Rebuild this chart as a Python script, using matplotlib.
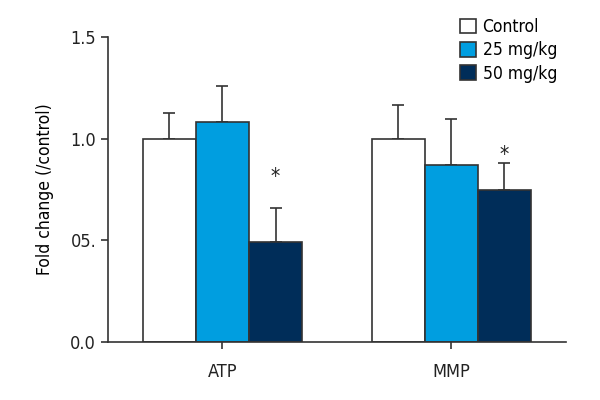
import matplotlib
matplotlib.use('Agg')
import matplotlib.pyplot as plt
import numpy as np

plt.rcParams['font.family'] = ['DejaVu Sans']
plt.rcParams['font.stretch'] = 'condensed'

# data
groups = ['ATP', 'MMP']
series = ['Control', '25 mg/kg', '50 mg/kg']
means = {
    'Control': [1.00, 1.00],
    '25 mg/kg': [1.08, 0.87],
    '50 mg/kg': [0.49, 0.75],
}
errs = {
    'Control': [0.125, 0.165],
    '25 mg/kg': [0.18, 0.225],
    '50 mg/kg': [0.17, 0.13],
}
# significance stars (50 mg/kg) and their heights
star_y = [0.81, 0.92]
yticks = [0.0, 0.5, 1.0, 1.5]
ytick_labels = ['0.0', '05.', '1.0', '1.5']

colors = ['#ffffff', '#009ee0', '#002d59']
edge = '#333333'

fig = plt.figure(figsize=(6, 4), dpi=100)
ax = fig.add_axes([0.18, 0.145, 0.763, 0.7625])

x = np.arange(len(groups))
width = 0.232
for i, name in enumerate(series):
    pos = x + (i - 1) * width
    ax.bar(pos, means[name], width, color=colors[i], edgecolor=edge,
           linewidth=1.2, label=name, zorder=2)
    ax.errorbar(pos, means[name], yerr=[np.zeros(len(groups)), errs[name]],
                fmt='none', ecolor=edge, elinewidth=1.2, capsize=4.5,
                capthick=1.2, zorder=1)
    if name == '50 mg/kg':
        for p, sy in zip(pos, star_y):
            ax.text(p, sy, '*', ha='center', va='center',
                    fontsize=15, color='#222222')

ax.set_xlim(-0.5, 1.5)
ax.set_ylim(0, 1.5)
ax.set_xticks(x)
ax.set_xticklabels(groups, fontsize=13)
ax.set_yticks(yticks)
ax.set_yticklabels(ytick_labels, fontsize=13)
ax.set_ylabel('Fold change (/control)', fontsize=12.5, labelpad=12)

for s in ['top', 'right']:
    ax.spines[s].set_visible(False)
for s in ['left', 'bottom']:
    ax.spines[s].set_color(edge)
    ax.spines[s].set_linewidth(1.2)
ax.tick_params(axis='both', colors=edge, length=5, width=1.2, labelcolor='#222222')
ax.tick_params(axis='x', pad=10)

leg = ax.legend(loc='upper left', bbox_to_anchor=(0.755, 0.972),
                bbox_transform=fig.transFigure, frameon=False, fontsize=12.5,
                handlelength=0.9, handleheight=0.9, handletextpad=0.4,
                labelspacing=0.3, borderaxespad=0)

fig.savefig('out.png', dpi=100, facecolor='white')
